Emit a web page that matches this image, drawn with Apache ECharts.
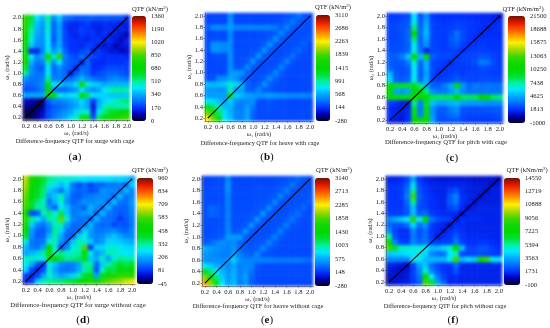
<!DOCTYPE html>
<html><head><meta charset="utf-8">
<style>html,body{margin:0;padding:0;background:#fff}#c{width:550px;height:328px}
#c canvas[data-zr-dom-id="zr_0"]{filter:blur(1.7px)}</style>
<script src="https://cdn.jsdelivr.net/npm/echarts@6/dist/echarts.min.js"></script>
</head><body><div id="c"></div>
<script>
const omega=['0.2','0.3','0.4','0.5','0.6','0.7','0.8','0.9','1.0','1.1','1.2','1.3','1.4','1.5','1.6','1.7','1.8','1.9','2.0'];
const captions=['Difference-frequency QTF for surge with cage','Difference-frequency QTF for heave with cage','Difference-frequency QTF for pitch with cage','Difference-frequency QTF for surge without cage','Difference-frequency QTF for heave without cage','Difference-frequency QTF for pitch without cage'];
const panelLetters=['a','b','c','d','e','f'];
const unitLabels=['QTF (kN/m{s|2})','QTF (kN/m{s|2})','QTF (kNm/m{s|2})','QTF (kN/m{s|2})','QTF (kN/m{s|2})','QTF (kNm/m{s|2})'];
const ticksA=[0,170,340,510,680,850,1020,1190,1360];
const ticksB=[-280,144,568,991,1415,1839,2263,2686,3110];
const ticksC=[-1000,1813,4625,7438,10250,13063,15875,18688,21500];
const ticksD=[-45,81,206,332,458,583,709,834,960];
const ticksE=[-280,148,575,1003,1430,1858,2285,2713,3140];
const ticksF=[-100,1731,3563,5394,7225,9056,10888,12719,14550];
const matA=[
[20,30,60,120,200,260,300,340,400,480,620,640,220,560,700,720,760,800,820],
[30,20,50,100,200,240,270,300,340,400,480,460,150,420,540,600,640,680,700],
[60,50,20,60,180,230,240,260,300,340,380,340,120,360,480,520,500,480,500],
[100,90,60,30,220,280,270,290,320,360,400,340,180,340,400,440,480,520,540],
[340,340,340,340,720,640,460,400,420,440,700,560,420,400,400,380,380,380,380],
[200,220,240,280,700,300,240,240,280,320,420,340,300,340,420,500,520,520,500],
[240,240,260,300,640,420,400,340,360,400,760,480,400,380,340,360,360,360,360],
[300,260,260,280,520,280,280,240,250,300,360,300,260,240,240,280,300,280,260],
[520,300,260,260,440,260,280,250,120,220,280,240,180,200,220,240,240,220,200],
[600,300,240,220,420,240,300,240,220,130,240,240,160,170,190,200,210,200,190],
[700,360,260,280,520,300,420,260,230,220,130,240,160,160,160,170,170,170,180],
[760,440,300,340,760,480,800,280,220,200,260,200,200,180,160,170,160,170,150],
[640,140,150,280,460,320,380,240,180,170,200,220,130,180,150,120,130,100,110],
[700,380,300,300,420,260,340,210,170,170,150,190,180,130,120,140,90,120,130],
[720,460,320,300,440,220,340,200,170,160,160,150,170,180,130,160,130,100,140],
[740,480,340,310,440,230,330,200,160,150,180,160,170,150,170,130,150,120,90],
[780,520,360,310,460,240,330,190,150,160,190,170,160,140,160,160,130,150,130],
[800,560,370,320,470,240,340,190,160,150,170,190,150,150,170,150,160,130,140],
[780,600,420,360,520,300,380,260,240,220,220,230,230,220,220,220,220,220,160]];
const matB=[
[2300,1900,1300,800,650,450,420,550,300,220,220,220,220,220,220,220,220,220,220],
[1900,1600,1100,750,600,450,420,560,320,230,230,230,230,230,230,230,230,230,230],
[1300,1100,900,650,600,420,400,520,380,230,240,250,230,230,220,220,220,220,220],
[800,750,650,550,700,460,420,460,460,250,240,260,240,230,230,220,220,220,220],
[520,520,520,540,1300,700,620,540,520,480,500,540,500,480,460,450,450,450,420],
[500,500,480,480,900,520,560,320,300,430,280,280,240,230,220,220,220,220,220],
[640,620,640,680,900,700,640,300,250,300,480,300,250,230,230,220,220,220,220],
[240,250,450,480,560,500,330,280,230,260,300,440,300,240,220,220,220,220,220],
[210,220,230,240,500,520,500,300,240,240,240,280,430,270,230,220,220,220,220],
[210,210,220,230,480,260,280,460,270,240,240,240,280,420,260,220,220,220,220],
[210,220,230,230,460,240,250,270,480,260,240,230,240,280,400,250,220,220,220],
[210,220,230,230,460,230,240,250,280,480,270,240,230,240,270,350,250,220,220],
[230,480,480,450,460,230,240,240,250,290,480,270,240,230,240,270,330,250,220],
[230,480,480,450,460,220,230,230,240,240,290,470,270,240,230,240,260,300,230],
[220,230,240,230,450,220,230,230,230,240,240,290,460,270,240,240,240,260,280],
[220,220,230,230,450,220,220,220,220,230,240,240,290,440,270,240,240,240,250],
[300,460,460,460,520,440,440,440,440,440,440,420,400,290,430,270,240,240,240],
[210,210,220,220,500,220,220,220,220,220,220,220,240,260,290,400,270,240,240],
[200,200,210,210,460,210,210,210,210,210,210,210,210,230,250,280,360,260,240]];
const matC=[
[1500,1300,1200,1800,10000,10500,11000,4500,2500,2500,2600,2700,2300,2000,2000,2000,2000,2100,2200],
[1700,1500,1200,1700,9500,3500,9800,4200,2600,2700,3200,3500,2400,2200,2300,2300,2300,2400,2500],
[1600,1400,1100,1500,9000,3300,9500,4000,2800,2800,3600,4000,2500,2500,2500,2500,2600,2700,2700],
[2000,1800,1300,1000,7800,3500,9000,5200,4500,4500,4800,5000,4400,4200,4200,4200,4000,4000,4000],
[10000,9800,9500,9500,11000,10500,10000,8400,8200,8300,8400,10500,8300,8300,8400,10500,10000,8200,8000],
[10500,4500,4200,4600,10000,10200,8000,4000,3500,3500,4200,5000,3800,3200,3300,3300,3400,3300,3300],
[10000,9000,8800,8800,9500,8000,4800,2800,2800,3500,4600,9800,4300,3000,3500,3300,3400,3300,3300],
[5500,3000,2700,3000,6500,3000,4800,2200,2000,2100,2300,2800,2400,2300,2200,2400,2400,2400,2400],
[5000,2800,2500,2700,6000,2600,4500,2300,1800,2000,2100,2300,2100,2200,2200,2200,2200,2100,2100],
[3000,2600,2500,2800,6200,2800,4800,2400,2000,1800,2000,2100,2000,2000,2100,2300,2300,2200,2100],
[2800,2600,2700,3500,7000,3000,4800,2300,2100,2000,1500,2200,2100,2200,2400,3600,3400,2400,2000],
[2800,2800,3600,5200,10500,5000,10000,2800,2400,2300,2300,1800,2200,2200,2300,2600,2500,2200,2000],
[2500,2500,2600,3000,6500,3200,1500,2300,2200,2100,2200,2100,1600,2000,2100,2100,2100,2000,1900],
[2400,2400,2500,2800,6200,3000,4000,2300,2100,2000,2500,2700,2100,1600,1900,2000,1900,1900,1900],
[2300,2300,2500,3000,8000,3000,4600,2300,2100,2000,2700,3100,2300,1900,1500,1800,1800,1800,1800],
[2300,2300,2500,3000,10500,3200,5000,2300,2100,2000,2400,3300,2400,1900,1800,1400,1700,1700,1700],
[2200,2300,2500,2800,8000,3000,4800,2200,2000,2000,2100,2300,2200,1900,1800,1700,1300,1700,1700],
[2200,2200,2400,2700,6500,2800,4500,2200,2000,1900,2000,2100,2000,1900,1800,1700,1700,1300,1700],
[2000,2000,2200,2400,6000,2500,4000,2000,1800,1800,1800,1800,1800,1700,1700,1600,1600,1500,1000]];
const matD=[
[60,90,240,320,340,350,360,380,400,440,500,540,480,560,600,620,640,670,690],
[90,60,100,200,300,230,200,220,250,320,400,440,200,420,500,530,550,560,560],
[240,100,60,110,300,200,150,150,160,210,320,360,120,300,400,380,450,430,460],
[280,210,110,70,280,230,170,150,160,200,330,330,130,240,320,370,430,380,400],
[310,310,300,280,450,480,380,340,350,370,420,240,210,310,200,300,340,330,320],
[200,220,240,340,520,300,360,300,310,330,450,300,180,220,320,310,280,270,260],
[220,160,150,200,480,300,100,170,300,300,600,90,250,250,290,300,280,260,250],
[300,150,140,150,300,310,180,130,240,330,290,240,170,190,250,250,240,220,210],
[400,180,120,130,220,330,210,130,120,240,290,190,160,170,210,230,200,170,170],
[460,200,130,120,180,340,250,150,140,130,240,200,150,150,160,170,140,130,170],
[520,250,170,150,200,320,330,200,140,140,130,220,150,130,140,100,120,110,150],
[560,340,280,200,330,320,600,300,170,150,150,110,220,150,140,130,90,120,160],
[480,100,110,310,360,280,380,240,150,170,190,200,120,220,150,140,120,130,170],
[570,400,320,340,180,130,280,230,160,150,130,220,180,130,220,140,130,130,180],
[590,420,360,300,150,220,300,180,130,150,180,170,180,190,130,220,150,140,190],
[600,440,400,350,200,240,320,200,130,120,150,160,170,170,170,130,220,150,170],
[620,480,420,360,240,200,150,230,150,130,140,110,120,180,170,170,140,220,170],
[640,500,440,380,310,260,230,260,150,110,140,100,130,130,150,150,160,130,240],
[650,520,460,400,340,320,300,300,290,280,270,260,260,260,260,250,250,240,200]];
const matE=[
[2500,2000,1300,800,560,640,420,520,300,230,220,220,220,220,220,220,220,220,220],
[2000,1700,1100,700,520,620,420,540,320,230,230,230,230,230,230,230,230,230,230],
[1300,1100,800,620,500,600,420,500,360,240,230,230,230,230,230,230,230,230,230],
[800,700,620,520,460,560,420,440,440,260,240,230,230,230,230,230,230,230,230],
[500,480,470,460,520,700,480,440,440,420,420,440,420,400,400,400,400,380,360],
[520,480,450,420,420,560,430,340,310,440,280,250,240,230,230,230,230,230,230],
[600,540,480,440,420,500,330,280,260,300,440,290,240,230,230,230,230,230,230],
[280,330,420,470,430,470,320,270,240,260,280,430,290,240,230,230,230,230,230],
[250,260,260,300,520,520,520,300,250,240,250,290,420,280,240,230,230,230,230],
[240,240,250,260,440,270,300,480,270,240,240,250,280,420,270,240,230,230,230],
[240,240,240,250,430,250,260,280,490,270,250,240,250,280,400,260,240,230,230],
[240,240,240,250,420,240,250,260,280,480,270,250,240,250,290,370,260,240,230],
[240,320,300,250,420,240,240,250,260,280,480,270,250,240,260,290,350,250,230],
[240,340,300,250,420,240,240,240,250,260,280,470,270,250,240,260,280,330,240],
[240,240,240,240,420,240,240,240,240,250,260,280,450,270,250,240,250,280,300],
[230,230,230,240,430,230,230,230,230,240,240,260,280,430,270,240,240,260,270],
[230,230,230,240,470,230,230,230,230,230,240,240,260,290,420,270,240,240,260],
[220,220,230,230,500,230,220,220,220,230,230,230,240,260,280,380,260,240,240],
[220,220,220,230,440,220,220,220,220,220,220,220,230,240,250,270,330,260,240]];
const matF=[
[1200,1200,1300,1400,1800,2400,9000,6500,3400,2500,1500,1600,1500,1500,1500,1500,1500,1500,1500],
[1200,1100,1200,1300,1900,2700,7500,4500,2800,2000,1600,1700,1500,1500,1500,1500,1500,1500,1500],
[1300,1200,1000,1200,1900,3000,5000,3000,2200,1800,1600,2200,1500,1500,1500,1500,1500,1500,1500],
[1500,1400,1200,900,2000,3400,4000,2600,2100,1800,1800,2600,1600,1500,1500,1600,1600,1600,1500],
[3000,3000,3000,3000,4600,4600,3800,3800,3800,3800,4600,9000,3800,4300,4000,8200,8800,4800,4400],
[4000,4200,4200,4400,4500,4800,4200,3000,2600,2600,4500,5000,2000,1900,2000,2100,2000,1900,1800],
[9000,6500,5000,5000,4800,4800,4600,3800,3800,4200,5000,7500,3800,2000,1900,2200,2200,1900,1700],
[7500,3000,2000,1900,3000,2500,2800,2000,1900,2000,2000,2800,2000,1700,1700,1800,1800,1700,1600],
[5500,2200,1700,1700,2800,2200,2600,1900,1200,1700,1800,2400,1800,1600,1600,1600,1600,1500,1500],
[3000,2000,1700,1700,3000,2100,2600,1800,1600,1100,1700,1900,1700,1500,1500,1500,1500,1500,1500],
[2500,2200,2200,2600,4200,2600,3200,1900,1600,1500,1000,1700,1600,1500,1500,1500,1500,1500,1500],
[3000,3600,4000,4400,8500,4500,7500,2800,2200,2000,1900,1100,1700,1600,1600,1600,1500,1500,1500],
[2000,1900,1900,2200,3800,2300,2600,1900,1700,1600,1600,1600,1000,1500,1500,1500,1500,1500,1500],
[1800,1800,1800,2300,3800,2000,2000,1700,1600,1500,2000,2200,1600,1000,1400,1500,1500,1500,1500],
[1800,1800,1800,2500,5500,2200,1900,1700,1600,1500,2300,2800,1700,1500,1000,1400,1400,1400,1400],
[1800,1800,1900,2900,9000,2400,1900,1700,1600,1500,2300,3000,1700,1500,1400,1000,1400,1400,1400],
[1800,1800,1900,2600,5500,2200,1800,1600,1500,1500,1900,2200,1600,1400,1400,1400,1000,1400,1400],
[1700,1700,1800,2300,4200,2000,1700,1500,1500,1400,1500,1500,1500,1400,1300,1300,1300,1000,1300],
[1500,1500,1600,2000,3400,1800,1500,1400,1300,1300,1300,1300,1300,1300,1200,1200,1200,1200,900]];
const palette=['#00002a','#0000b0','#0030ff','#0070ff','#00a8ff','#00e8ff','#00f0a0','#00e030','#00d800','#10d800','#40d800','#a8d800','#fff000','#ffa000','#ff5000','#e01800','#701000'];

const mats=[matA,matB,matC,matD,matE,matF];
const ticks=[ticksA,ticksB,ticksC,ticksD,ticksE,ticksF];
const layout=[
 {p:[23,15,130,120],b:[132,146,16,121],c:[75,141],l:[75,157],u:[150,9],f:6.37},
 {p:[205,13,313,121],b:[316,330,15,121],c:[260,143],l:[267,157],u:[333,7],f:6.3},
 {p:[387,13,503,123],b:[508,525,16,123],c:[446,142],l:[452,158],u:[523,9],f:6.6},
 {p:[23,176,135,284],b:[137,153,178,284],c:[78,305],l:[83,320],u:[150,170],f:6.8},
 {p:[202,176,313,286],b:[315,330,178,286],c:[258,306],l:[267,320],u:[334,170],f:6.5},
 {p:[386,176,502,285],b:[504,520,178,285],c:[445,306],l:[453,320],u:[527,170],f:6.2}];
const FF='Liberation Serif', TC='#222';
const grid=[],xAxis=[],yAxis=[],series=[],visualMap=[],title=[];
mats.forEach((m,i)=>{
  const L=layout[i],t=ticks[i],gi=i*2;
  grid.push({left:L.p[0],top:L.p[1],width:L.p[2]-L.p[0],height:L.p[3]-L.p[1]});
  grid.push({left:L.b[1],top:L.b[2],width:1,height:L.b[3]-L.b[2]});
  const tickSt={show:true,interval:1,alignWithLabel:true,length:1.5,lineStyle:{color:'#333',width:0.5}};
  xAxis.push({type:'category',gridIndex:gi,zlevel:1,data:omega,name:'ω\u2081 (rad/s)',nameLocation:'middle',nameGap:10,nameMoveOverlap:false,nameTextStyle:{fontFamily:FF,fontSize:6.3,color:TC},
    axisLine:{lineStyle:{color:'#333',width:0.5}},axisTick:tickSt,axisLabel:{interval:1,margin:3,fontFamily:FF,fontSize:6.6,color:TC},splitLine:{show:false}});
  yAxis.push({type:'category',gridIndex:gi,zlevel:1,data:omega,name:'ω\u2082 (rad/s)',nameLocation:'middle',nameGap:13,nameMoveOverlap:false,nameTextStyle:{fontFamily:FF,fontSize:6.3,color:TC},
    axisLine:{lineStyle:{color:'#333',width:0.5}},axisTick:tickSt,axisLabel:{interval:1,margin:2,fontFamily:FF,fontSize:6.6,color:TC},splitLine:{show:false}});
  xAxis.push({type:'category',gridIndex:gi+1,zlevel:1,show:false,data:['']});
  yAxis.push({type:'category',gridIndex:gi+1,zlevel:1,position:'right',boundaryGap:false,data:t.map(String),axisLine:{show:false},axisTick:{show:false},
    axisLabel:{interval:0,margin:4,fontFamily:FF,fontSize:6.6,color:TC},splitLine:{show:false}});
  const data=[];
  m.forEach((row,y)=>row.forEach((v,x)=>data.push([x,y,v])));
  series.push({type:'heatmap',xAxisIndex:gi,yAxisIndex:gi,zlevel:0,data,progressive:0,animation:false,emphasis:{disabled:true},itemStyle:{borderWidth:0}});
  visualMap.push({type:'continuous',seriesIndex:series.length-1,zlevel:1,min:t[0],max:t[8],inRange:{color:palette},calculable:false,hoverLink:false,realtime:false,
    left:L.b[0],top:L.b[2],padding:0,itemWidth:L.b[1]-L.b[0],itemHeight:L.b[3]-L.b[2],text:null,showLabel:false,borderWidth:0});
  series.push({type:'line',xAxisIndex:gi,yAxisIndex:gi,zlevel:1,data:[[omega[0],omega[0]],[omega[18],omega[18]]],symbol:'none',silent:true,animation:false,z:5,lineStyle:{color:'#000',width:1.1}});
  title.push({zlevel:1,text:captions[i],left:L.c[0],top:L.c[1],textAlign:'center',textVerticalAlign:'middle',padding:0,textStyle:{fontFamily:FF,fontSize:L.f,fontWeight:'normal',color:TC}});
  title.push({zlevel:1,text:'({b|'+panelLetters[i]+'})',left:L.l[0],top:L.l[1],textAlign:'center',textVerticalAlign:'middle',padding:0,textStyle:{fontFamily:FF,fontSize:11,fontWeight:'normal',color:'#111',rich:{b:{fontFamily:FF,fontSize:11,fontWeight:'bold',color:'#111'}}}});
  title.push({zlevel:1,text:unitLabels[i],left:L.u[0],top:L.u[1],textAlign:'center',textVerticalAlign:'middle',padding:0,textStyle:{fontFamily:FF,fontSize:6.6,fontWeight:'normal',color:TC,rich:{s:{fontFamily:FF,fontSize:5,verticalAlign:'top',lineHeight:6,color:TC}}}});
});
const chart=echarts.init(document.getElementById('c'),null,{renderer:'canvas',width:550,height:328});
chart.setOption({animation:false,backgroundColor:'#fff',grid,xAxis,yAxis,series,visualMap,title,tooltip:{show:false}});
</script></body></html>
